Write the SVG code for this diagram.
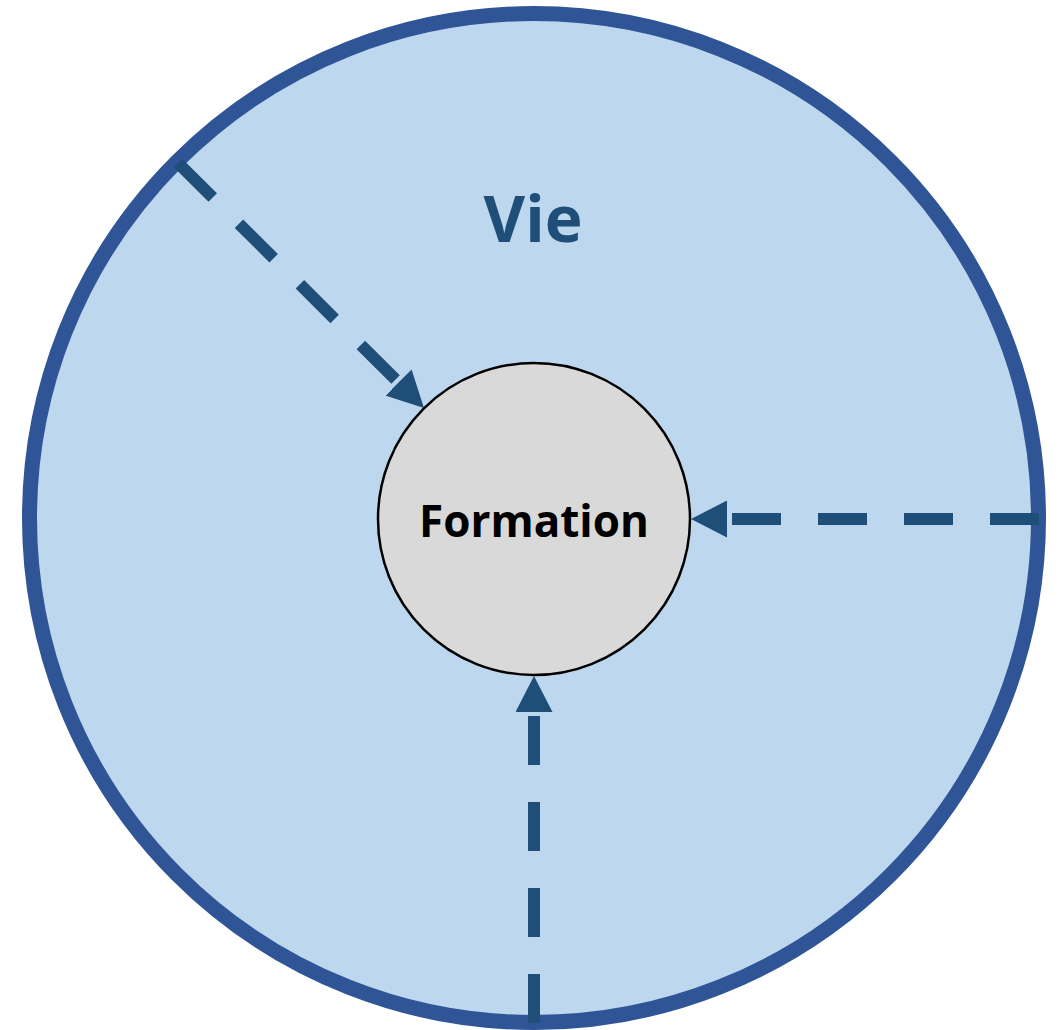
<svg xmlns="http://www.w3.org/2000/svg" width="1059" height="1030" viewBox="0 0 1059 1030">
  <defs>
    <marker id="arrow" markerUnits="userSpaceOnUse" markerWidth="36" markerHeight="37" viewBox="0 -18 35 36" refX="0" refY="0" orient="auto">
      <path d="M0,-18 L35,0 L0,18 z" fill="#1F4E79"/>
    </marker>
    <style>
      .conn { stroke: #1F4E79; stroke-width: 12; stroke-dasharray: 49 37; fill: none; marker-end: url(#arrow); }
    </style>
  </defs>
  <rect width="1059" height="1030" fill="#ffffff"/>
  <g id="vie">
    <circle cx="534" cy="518" r="504.5" fill="#BDD7EE" stroke="#2F5597" stroke-width="15"/>
    <text x="533" y="242" font-family="Open Sans, Liberation Sans, sans-serif" font-weight="bold" font-size="64" fill="#1F4E79" text-anchor="middle">Vie</text>
  </g>
  <g id="connectors">
    <line class="conn" x1="178" y1="163" x2="398.5" y2="382.5"/>
    <line class="conn" x1="1039" y1="519" x2="727" y2="519"/>
    <line class="conn" x1="534" y1="1023" x2="534" y2="712"/>
  </g>
  <g id="formation">
    <circle cx="534" cy="519" r="156" fill="#D9D9D9" stroke="#000000" stroke-width="2.5"/>
    <text x="534" y="537" font-family="Open Sans, Liberation Sans, sans-serif" font-weight="bold" font-size="44" fill="#000000" text-anchor="middle">Formation</text>
  </g>
</svg>
